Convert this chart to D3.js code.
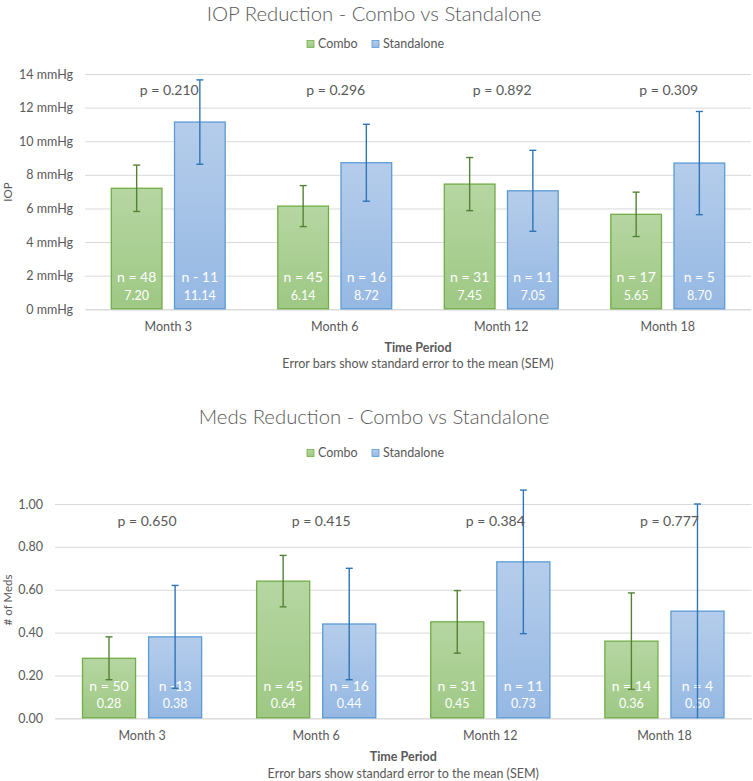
<!DOCTYPE html>
<html>
<head>
<meta charset="utf-8">
<script src="https://cdn.jsdelivr.net/npm/d3@7"></script>
<style>
  html, body { margin: 0; padding: 0; background: #fff; }
  svg { display: block; font-family: Lato, "Open Sans", sans-serif; }
</style>
</head>
<body>
<svg id="chart" width="753" height="781"></svg>
<script>
// ---------- DATA ----------
const categories = ["Month 3", "Month 6", "Month 12", "Month 18"];
const seriesNames = ["Combo", "Standalone"];

// IOP chart
const iopCombo = [7.20, 6.14, 7.45, 5.65];
const iopStandalone = [11.14, 8.72, 7.05, 8.70];
const iopComboErr = [1.38, 1.22, 1.58, 1.32];
const iopStandaloneErr = [2.51, 2.29, 2.41, 3.07];
const iopComboN = ["n = 48", "n = 45", "n = 31", "n = 17"];
const iopStandaloneN = ["n - 11", "n = 16", "n = 11", "n = 5"];
const iopPValues = ["p = 0.210", "p = 0.296", "p = 0.892", "p = 0.309"];
const iopTicks = [0, 2, 4, 6, 8, 10, 12, 14];

// Meds chart
const medsCombo = [0.28, 0.64, 0.45, 0.36];
const medsStandalone = [0.38, 0.44, 0.73, 0.50];
const medsComboErr = [0.10, 0.12, 0.146, 0.225];
const medsStandaloneErr = [0.24, 0.26, 0.335, 0.50];
const medsComboN = ["n = 50", "n = 45", "n = 31", "n = 14"];
const medsStandaloneN = ["n -13", "n = 16", "n = 11", "n = 4"];
const medsPValues = ["p = 0.650", "p = 0.415", "p = 0.384", "p = 0.777"];
const medsTicks = [0, 0.2, 0.4, 0.6, 0.8, 1.0];

// ---------- STYLE ----------
const TEXT = "#595959";
const GRID = "#d9d9d9";
const colors = {
  Combo: { stroke: "#70ad47", top: "#b6d6a2", bottom: "#9ec884", err: "#548235" },
  Standalone: { stroke: "#5b9bd5", top: "#b5cdeb", bottom: "#95b8e3", err: "#2e75b6" }
};

const svg = d3.select("#chart");
const defs = svg.append("defs");
seriesNames.forEach(s => {
  const g = defs.append("linearGradient").attr("id", "grad-" + s)
    .attr("x1", 0).attr("y1", 0).attr("x2", 0).attr("y2", 1);
  g.append("stop").attr("offset", "0%").attr("stop-color", colors[s].top);
  g.append("stop").attr("offset", "100%").attr("stop-color", colors[s].bottom);
});

function drawChart(cfg) {
  const g = svg.append("g");
  const x0 = d3.scaleBand().domain(categories).range([cfg.left, cfg.right]).paddingInner(0.31).paddingOuter(0.155);
  const x1 = d3.scaleBand().domain(seriesNames).range([0, x0.bandwidth()]).paddingInner(0.182);
  const y = d3.scaleLinear().domain(cfg.domain).range([cfg.zeroY, cfg.topY]);

  // title
  g.append("text").attr("x", 374).attr("y", cfg.titleY).attr("dy", "0.35em")
    .attr("text-anchor", "middle").attr("fill", TEXT)
    .attr("font-size", 20.3).attr("font-weight", 300).text(cfg.title);

  // legend
  const leg = g.append("g").attr("transform", `translate(0,${cfg.legendY})`);
  const legX = [307, 372];
  seriesNames.forEach((s, i) => {
    leg.append("rect").attr("x", legX[i]).attr("y", -3.5).attr("width", 7).attr("height", 7)
      .attr("fill", `url(#grad-${s})`).attr("stroke", colors[s].stroke).attr("stroke-width", 0.8);
    leg.append("text").attr("x", legX[i] + 11).attr("y", 0).attr("dy", "0.35em")
      .attr("fill", TEXT).attr("font-size", 12.5).text(s);
  });

  // y axis with gridlines
  const yAxis = d3.axisLeft(y).tickValues(cfg.ticks).tickSize(-(cfg.right - cfg.left)).tickPadding(12)
    .tickFormat(cfg.tickFormat);
  const ya = g.append("g").attr("transform", `translate(${cfg.left},0)`).call(yAxis);
  ya.select(".domain").remove();
  ya.selectAll(".tick line").attr("stroke", GRID).attr("stroke-width", 1);
  ya.selectAll(".tick text").attr("fill", TEXT).attr("font-size", 12.5).attr("font-family", "Lato, sans-serif");

  // y axis title
  g.append("text").attr("transform", `translate(${cfg.yTitleX},${cfg.yTitleY}) rotate(-90)`)
    .attr("text-anchor", "middle").attr("dy", "0.35em").attr("fill", TEXT)
    .attr("font-size", 11.5).text(cfg.yTitle);

  // x axis
  const xAxis = d3.axisBottom(x0).tickSize(0).tickPadding(0);
  const xa = g.append("g").attr("transform", `translate(0,${cfg.zeroY})`).call(xAxis);
  xa.select(".domain").attr("stroke", GRID);
  xa.selectAll(".tick text").attr("fill", TEXT).attr("font-size", 12.5)
    .attr("font-family", "Lato, sans-serif").attr("y", cfg.xLabelY - cfg.zeroY).attr("dy", "0.35em");

  const plotCenter = (cfg.left + cfg.right) / 2;
  g.append("text").attr("x", plotCenter).attr("y", cfg.xTitleY).attr("dy", "0.35em")
    .attr("text-anchor", "middle").attr("fill", TEXT).attr("font-size", 12.5).attr("font-weight", 700)
    .text("Time Period");
  g.append("text").attr("x", plotCenter).attr("y", cfg.noteY).attr("dy", "0.35em")
    .attr("text-anchor", "middle").attr("fill", TEXT).attr("font-size", 12.5)
    .text("Error bars show standard error to the mean (SEM)");

  // data rows
  const rows = categories.map((c, i) => ({
    cat: c,
    p: cfg.pValues[i],
    items: [
      { s: "Combo", v: cfg.combo[i], e: cfg.comboErr[i], n: cfg.comboN[i] },
      { s: "Standalone", v: cfg.stand[i], e: cfg.standErr[i], n: cfg.standN[i] }
    ]
  }));

  const groups = g.selectAll(".grp").data(rows).join("g")
    .attr("transform", d => `translate(${x0(d.cat)},0)`);

  groups.selectAll("rect").data(d => d.items).join("rect")
    .attr("x", d => x1(d.s) + 0.5).attr("width", x1.bandwidth() - 1)
    .attr("y", d => y(d.v)).attr("height", d => y(0) - y(d.v) - 0.5)
    .attr("fill", d => `url(#grad-${d.s})`)
    .attr("stroke", d => colors[d.s].stroke).attr("stroke-width", 1.3);

  // n labels + value labels
  groups.selectAll(".nlab").data(d => d.items).join("text").attr("class", "nlab")
    .attr("x", d => x1(d.s) + x1.bandwidth() / 2).attr("y", cfg.nY).attr("dy", "0.35em")
    .attr("text-anchor", "middle").attr("fill", "#fff").attr("font-size", 14).text(d => d.n);
  groups.selectAll(".vlab").data(d => d.items).join("text").attr("class", "vlab")
    .attr("x", d => x1(d.s) + x1.bandwidth() / 2).attr("y", cfg.vY).attr("dy", "0.35em")
    .attr("text-anchor", "middle").attr("fill", "#fff").attr("font-size", 12.5).text(d => cfg.valueFormat(d.v));

  // error bars
  const cap = 3.5;
  const eb = groups.selectAll(".err").data(d => d.items).join("g").attr("class", "err")
    .attr("stroke", d => colors[d.s].err).attr("stroke-width", 1.4);
  eb.append("line")
    .attr("x1", d => x1(d.s) + x1.bandwidth() / 2).attr("x2", d => x1(d.s) + x1.bandwidth() / 2)
    .attr("y1", d => y(d.v + d.e)).attr("y2", d => y(Math.max(0, d.v - d.e)));
  eb.append("line")
    .attr("x1", d => x1(d.s) + x1.bandwidth() / 2 - cap).attr("x2", d => x1(d.s) + x1.bandwidth() / 2 + cap)
    .attr("y1", d => y(d.v + d.e)).attr("y2", d => y(d.v + d.e));
  eb.filter(d => d.v - d.e > 0.0001).append("line")
    .attr("x1", d => x1(d.s) + x1.bandwidth() / 2 - cap).attr("x2", d => x1(d.s) + x1.bandwidth() / 2 + cap)
    .attr("y1", d => y(d.v - d.e)).attr("y2", d => y(d.v - d.e));

  // p values
  groups.append("text").attr("class", "plab")
    .attr("x", x0.bandwidth() / 2 + cfg.pOffset).attr("y", cfg.pY).attr("dy", "0.35em")
    .attr("text-anchor", "middle").attr("fill", TEXT).attr("font-size", 14).text(d => d.p);
}

drawChart({
  title: "IOP Reduction - Combo vs Standalone",
  titleY: 14, legendY: 44,
  left: 85, right: 751, zeroY: 309.3, topY: 74, domain: [0, 14],
  ticks: iopTicks, tickFormat: d => d + " mmHg",
  yTitle: "IOP", yTitleX: 8, yTitleY: 192,
  xLabelY: 327, xTitleY: 348, noteY: 364,
  combo: iopCombo, stand: iopStandalone, comboErr: iopComboErr, standErr: iopStandaloneErr,
  comboN: iopComboN, standN: iopStandaloneN, pValues: iopPValues, pOffset: 1, pY: 90,
  nY: 277, vY: 296, valueFormat: d3.format(".2f")
});

drawChart({
  title: "Meds Reduction - Combo vs Standalone",
  titleY: 417, legendY: 453,
  left: 55, right: 751.5, zeroY: 718.3, topY: 504, domain: [0, 1],
  ticks: medsTicks, tickFormat: d3.format(".2f"),
  yTitle: "# of Meds", yTitleX: 8, yTitleY: 600,
  xLabelY: 736, xTitleY: 757, noteY: 774,
  combo: medsCombo, stand: medsStandalone, comboErr: medsComboErr, standErr: medsStandaloneErr,
  comboN: medsComboN, standN: medsStandaloneN, pValues: medsPValues, pOffset: 5, pY: 521,
  nY: 686, vY: 704, valueFormat: d3.format(".2f")
});
</script>
</body>
</html>
